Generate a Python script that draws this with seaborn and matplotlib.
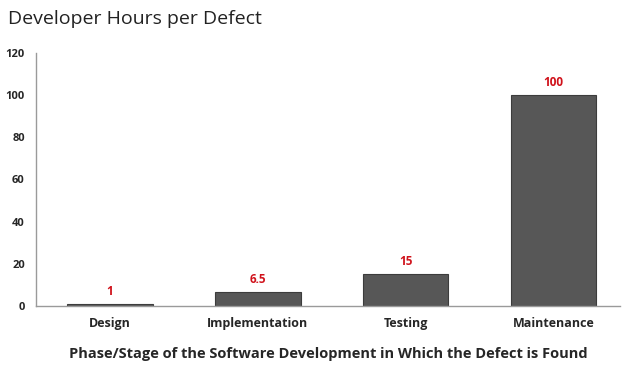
import matplotlib
matplotlib.use("Agg")
import matplotlib.pyplot as plt
import seaborn as sns
import pandas as pd

# ── Data ──────────────────────────────────────────────────────
phases = ["Design", "Implementation", "Testing", "Maintenance"]
hours = [1, 6.5, 15, 100]
value_labels = ["1", "6.5", "15", "100"]
y_ticks = [0, 20, 40, 60, 80, 100, 120]

df = pd.DataFrame({"phase": phases, "hours": hours})

# ── Style ─────────────────────────────────────────────────────
sns.set_style("white")
plt.rcParams["font.family"] = ["Open Sans", "DejaVu Sans"]

fig = plt.figure(figsize=(6.3, 3.7), dpi=100)
ax = fig.add_axes([0.057, 0.173, 0.927, 0.684])

sns.barplot(data=df, x="phase", y="hours", color="#575757",
            saturation=1, width=0.58, edgecolor="#3c3c3c", linewidth=0.8, ax=ax)

for i, (v, lab) in enumerate(zip(hours, value_labels)):
    ax.text(i, v + 3, lab, ha="center", va="bottom", color="#d0121b",
            fontsize=8.5, fontweight="bold")

ax.set_xlim(-0.5, 3.45)
ax.set_ylim(0, 120)
ax.set_yticks(y_ticks)
ax.set_yticklabels([str(t) for t in y_ticks], fontsize=8, fontweight="bold")
ax.tick_params(axis="y", length=0, pad=8)
ax.tick_params(axis="x", length=0, pad=8, labelsize=9)
for t in ax.get_xticklabels():
    t.set_fontweight("bold")

for s in ["top", "right"]:
    ax.spines[s].set_visible(False)
for s in ["left", "bottom"]:
    ax.spines[s].set_color("#9a9a9a")
    ax.spines[s].set_linewidth(1.0)

ax.set_xlabel("Phase/Stage of the Software Development in Which the Defect is Found",
              fontsize=10.5, fontweight="bold", labelpad=12)
ax.set_ylabel("")

fig.text(0.012, 0.95, "Developer Hours per Defect", fontsize=14,
         ha="left", va="center", color="#222222")

fig.savefig("out.png", dpi=100)
